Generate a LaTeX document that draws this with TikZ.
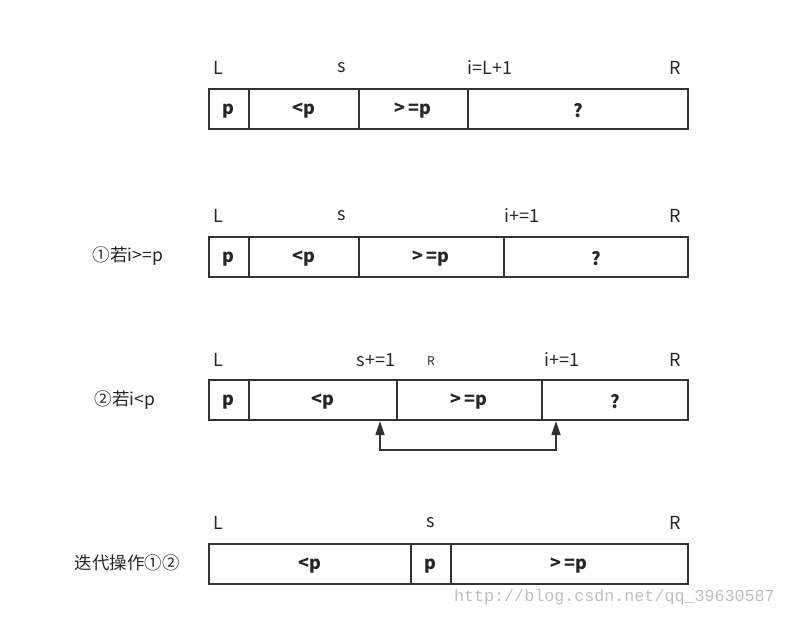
\documentclass[tikz,border=0pt]{standalone}
\usepackage{fontspec}
\setmainfont{Noto Sans CJK SC}
\newfontfamily\wmfont{Liberation Mono}
\usetikzlibrary{arrows.meta}
\begin{document}
\begin{tikzpicture}[x=1pt,y=-1pt,
  cell/.style={draw=black!80,line width=1.7pt,inner sep=0pt,font=\fontsize{18}{20}\selectfont\bfseries,text=black!85},
  lab/.style={font=\fontsize{18}{20}\selectfont,text=black!85,inner sep=0pt},
  side/.style={font=\fontsize{17.5}{20}\selectfont,text=black!85,inner sep=0pt},
  small/.style={font=\fontsize{12}{14}\selectfont,text=black!85,inner sep=0pt}]
\useasboundingbox (0,0) rectangle (787,617);
\newcommand\cellbox[5]{% name, x1, x2, y1, text
  \node[cell,minimum width={(#3-#2)*1pt},minimum height=40pt,anchor=north west] (#1) at (#2,#4) {\raisebox{-2pt}[\height][\depth]{#5}};}
% Row 1
\cellbox{a1}{208}{248}{88}{p}
\cellbox{a2}{248}{358}{88}{<p}
\cellbox{a3}{358}{467}{88}{>\,=p}
\cellbox{a4}{467}{687}{88}{?}
\node[lab] (la1) at (218,68) {L};
\node[lab] (la2) at (342,68) {s};
\node[lab] (la3) at (490,68) {i=L+1};
\node[lab] (la4) at (675,68) {R};
% Row 2
\cellbox{b1}{208}{248}{236}{p}
\cellbox{b2}{248}{358}{236}{<p}
\cellbox{b3}{358}{503}{236}{>\,=p}
\cellbox{b4}{503}{687}{236}{?}
\node[lab] (lb1) at (218,216) {L};
\node[lab] (lb2) at (342,216) {s};
\node[lab] (lb3) at (522,216) {i+=1};
\node[lab] (lb4) at (675,216) {R};
\node[side] (sb) at (128,256) {①若i>=p};
% Row 3
\cellbox{c1}{208}{248}{379}{p}
\cellbox{c2}{248}{396}{379}{<p}
\cellbox{c3}{396}{541}{379}{>\,=p}
\cellbox{c4}{541}{687}{379}{?}
\node[lab] (lc1) at (218,360) {L};
\node[lab] (lc2) at (376,360) {s+=1};
\node[small] (lc5) at (431,361) {R};
\node[lab] (lc3) at (562,360) {i+=1};
\node[lab] (lc4) at (675,360) {R};
\node[side] (sc) at (125,400) {②若i<p};
\coordinate (ca) at (380,421);
\coordinate (cb) at (556,421);
\draw[line width=1.7pt,draw=black!80,{Triangle[length=14pt,width=9pt]}-{Triangle[length=14pt,width=9pt]}]
  (ca) -- ++(0,29) -| (cb);
% Row 4
\cellbox{d1}{208}{410}{543}{<p}
\cellbox{d2}{410}{450}{543}{p}
\cellbox{d3}{450}{687}{543}{>\,=p}
\node[lab] (ld1) at (218,523) {L};
\node[lab] (ld2) at (431,523) {s};
\node[lab] (ld3) at (675,523) {R};
\node[side] (sd) at (127,563) {迭代操作①②};
% watermark
\node[font=\wmfont\fontsize{16.7}{18}\selectfont,text=black!25,inner sep=0pt,anchor=east] (wm) at (775,597) {http://blog.csdn.net/qq\_39630587};
\end{tikzpicture}
\end{document}
